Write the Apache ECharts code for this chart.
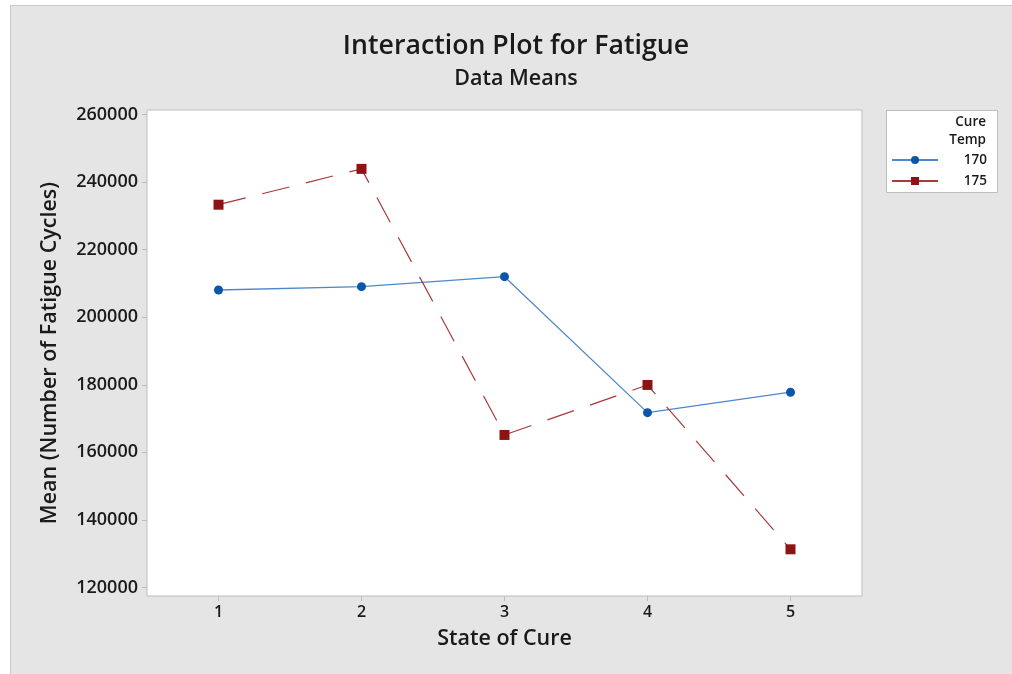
<!DOCTYPE html>
<html>
<head>
<meta charset="utf-8">
<script src="https://cdn.jsdelivr.net/npm/echarts@6/dist/echarts.min.js"></script>
<style>
  html, body { margin: 0; padding: 0; background: #ffffff; }
  #chart { width: 1012px; height: 674px; }
</style>
</head>
<body>
<div id="chart"></div>
<script>
// State of cure levels on the x axis
const stateOfCure = ['1', '2', '3', '4', '5'];
// Mean number of fatigue cycles per cure temperature
const temp170 = [208050, 209050, 212000, 171750, 177800];
const temp175 = [233300, 243900, 165150, 179950, 131300];
// Labelled y ticks
const yTicks = [120000, 140000, 160000, 180000, 200000, 220000, 240000, 260000];

const FONT = '"Open Sans", "Noto Sans", sans-serif';
const TEXT = '#1a1a1a';

const chart = echarts.init(document.getElementById('chart'), null, { renderer: 'canvas' });

chart.setOption({
  backgroundColor: '#ffffff',
  animation: false,
  graphic: [
    {
      type: 'rect', z: -100, silent: true,
      shape: { x: 10.5, y: 5.5, width: 1100, height: 700 },
      style: { fill: '#e5e5e5', stroke: '#c9c9c9', lineWidth: 1 }
    },
    {
      type: 'rect', z: -50, silent: true,
      shape: { x: 886.5, y: 110.5, width: 111, height: 82 },
      style: { fill: '#ffffff', stroke: '#bdbdbd', lineWidth: 1 }
    },
    {
      type: 'text', z: 10, silent: true,
      style: {
        x: 986, y: 122, text: 'Cure', align: 'right', verticalAlign: 'middle',
        font: '600 13.5px ' + FONT, fill: TEXT
      }
    },
    {
      type: 'text', z: 10, silent: true,
      style: {
        x: 986, y: 140, text: 'Temp', align: 'right', verticalAlign: 'middle',
        font: '600 13.5px ' + FONT, fill: TEXT
      }
    }
  ],
  title: [
    {
      text: 'Interaction Plot for Fatigue',
      left: 511, top: 28, textAlign: 'center',
      textStyle: { fontFamily: FONT, fontSize: 26.7, fontWeight: 600, color: TEXT }
    },
    {
      text: 'Data Means',
      left: 511, top: 63, textAlign: 'center',
      textStyle: { fontFamily: FONT, fontSize: 21.5, fontWeight: 600, color: TEXT }
    }
  ],
  legend: {
    orient: 'vertical',
    left: 891, top: 153, padding: 0,
    itemWidth: 46, itemHeight: 10, itemGap: 7,
    data: ['170', '175'],
    lineStyle: { type: 'solid' },
    formatter: name => '{v|' + name + '}',
    textStyle: {
      fontFamily: FONT, fontSize: 13.5, color: TEXT,
      rich: { v: { width: 44, align: 'right', fontFamily: FONT, fontSize: 13.5, fontWeight: 600, color: TEXT } }
    }
  },
  grid: {
    left: 147, right: 150, top: 110, bottom: 78,
    show: true, backgroundColor: '#ffffff', borderColor: '#bdbdbd', borderWidth: 1
  },
  xAxis: {
    type: 'category',
    data: stateOfCure,
    boundaryGap: true,
    name: 'State of Cure',
    nameLocation: 'middle',
    nameGap: 32,
    nameTextStyle: { fontFamily: FONT, fontSize: 21.5, fontWeight: 600, color: TEXT },
    axisLine: { show: false },
    axisTick: { show: true, alignWithLabel: true, length: 5, lineStyle: { color: '#bdbdbd' } },
    axisLabel: { fontFamily: FONT, fontSize: 16, fontWeight: 600, color: TEXT, margin: 8 },
    splitLine: { show: false }
  },
  yAxis: {
    type: 'value',
    min: 117480, max: 261330,
    name: 'Mean (Number of Fatigue Cycles)',
    nameLocation: 'middle',
    nameGap: 86,
    nameTextStyle: { fontFamily: FONT, fontSize: 21.5, fontWeight: 600, color: TEXT },
    axisLine: { show: false },
    axisTick: { show: true, length: 5, customValues: yTicks, lineStyle: { color: '#bdbdbd' } },
    axisLabel: {
      fontFamily: FONT, fontSize: 18, fontWeight: 600, color: TEXT, margin: 9,
      customValues: yTicks,
      formatter: v => String(v)
    },
    splitLine: { show: false }
  },
  series: [
    {
      name: '170', type: 'line', data: temp170,
      symbol: 'circle', symbolSize: 9,
      itemStyle: { color: '#0a56a8' },
      lineStyle: { color: '#4f88c8', width: 1.3, type: 'solid' },
      z: 3
    },
    {
      name: '175', type: 'line', data: temp175,
      symbol: 'rect', symbolSize: 10,
      itemStyle: { color: '#8c1414' },
      lineStyle: { color: '#a83a3a', width: 1.2, type: [28, 17] },
      z: 4
    }
  ]
});
</script>
</body>
</html>
